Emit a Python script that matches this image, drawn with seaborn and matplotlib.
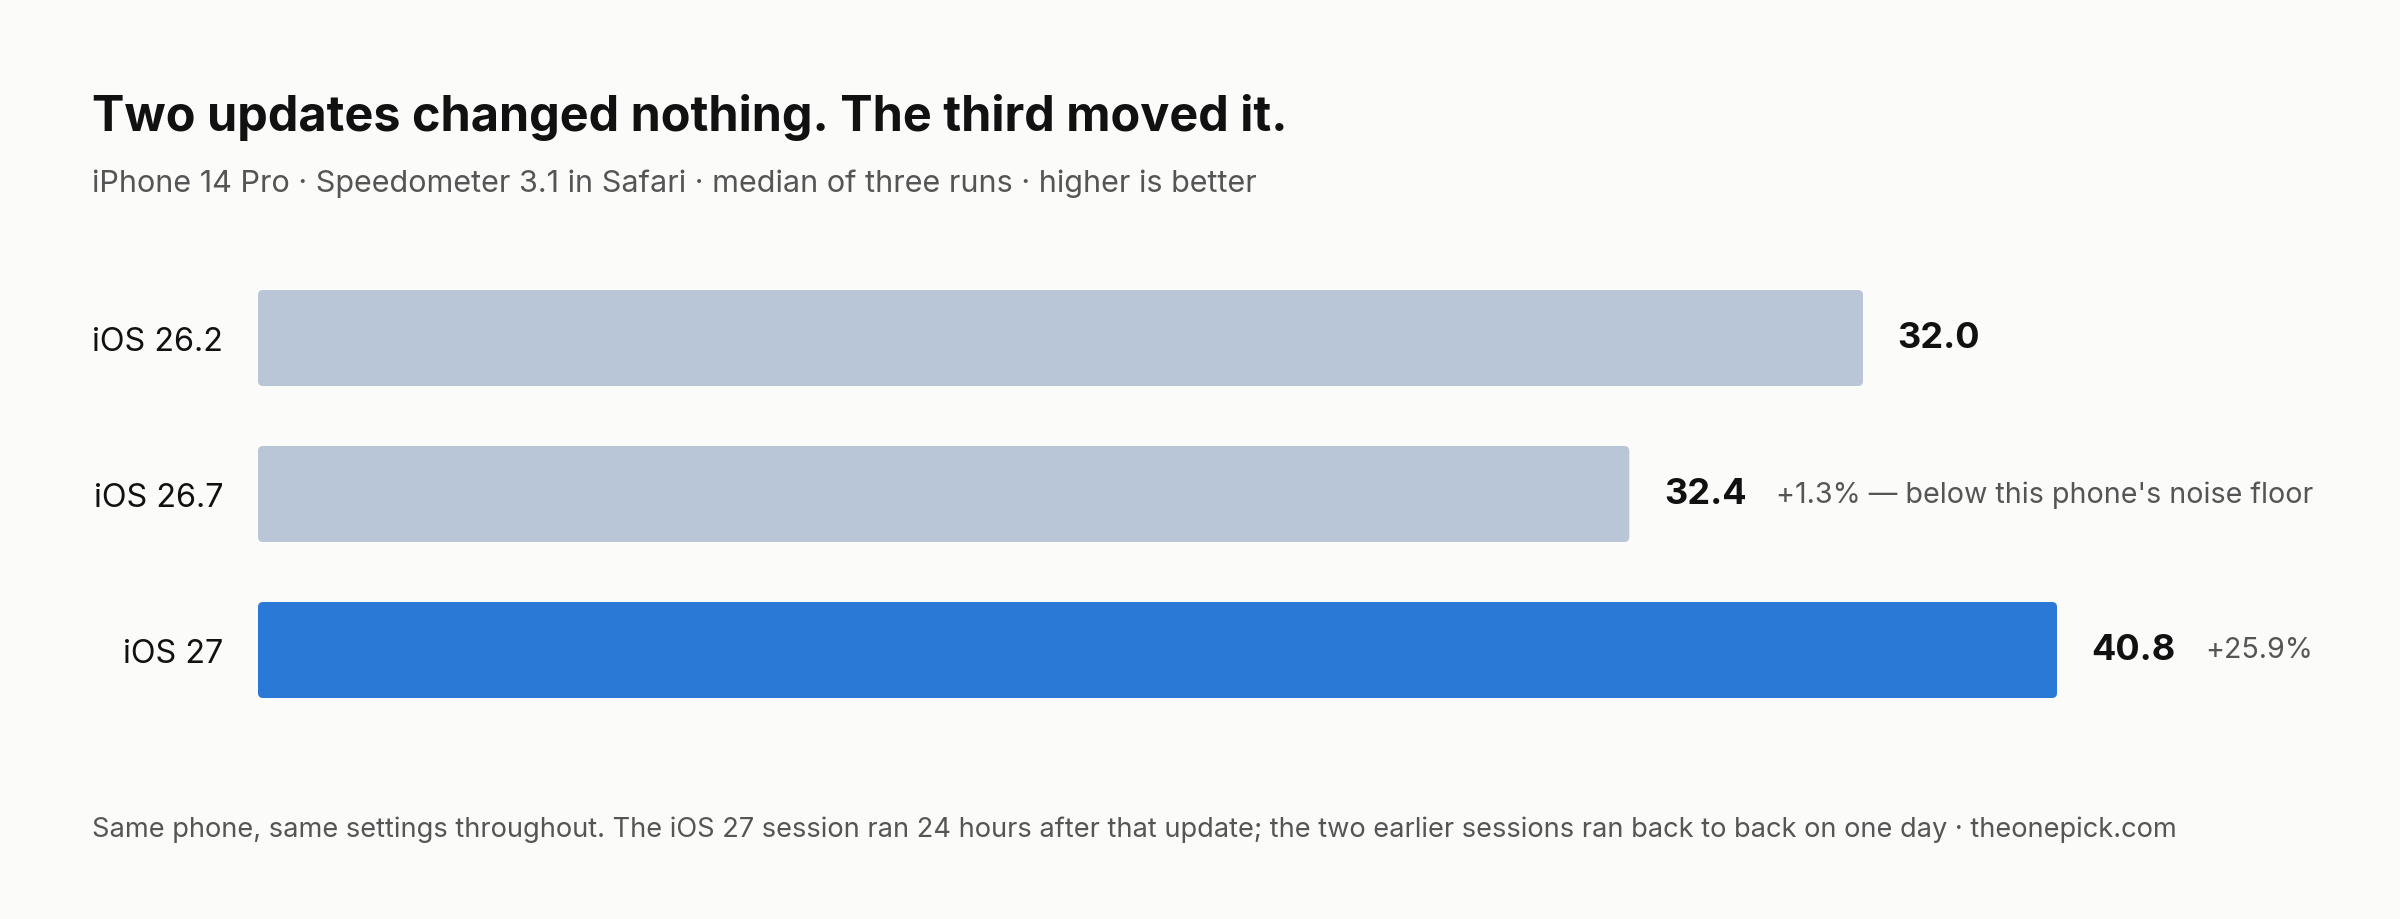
import matplotlib
matplotlib.use("Agg")
import matplotlib.pyplot as plt
from matplotlib.patches import FancyBboxPatch
import seaborn as sns
import pandas as pd

# data
versions = ["iOS 26.2", "iOS 26.7", "iOS 27"]
scores = [32.0, 32.4, 40.8]
# bar lengths as drawn in the reference (score units, iOS 27 bar = 40.8)
bar_drawn = [36.4, 31.1, 40.8]
notes = ["", "+1.3% — below this phone's noise floor", "+25.9%"]
bar_colors = ["#B9C6D7", "#B9C6D7", "#2A79D6"]

BG = "#FBFBFA"
DARK = "#111111"
GREY = "#555555"

sns.set_theme(style="white")
plt.rcParams["font.family"] = ["Inter", "DejaVu Sans"]

DPI = 100
W, H = 2400, 920
fig = plt.figure(figsize=(W / DPI, H / DPI), dpi=DPI, facecolor=BG)

# axes placed in pixel terms of the reference
left, right = 258, 2308
top, bottom = 261, 729
ax = fig.add_axes([left / W, 1 - bottom / H, (right - left) / W, (bottom - top) / H])
ax.set_facecolor(BG)

df = pd.DataFrame({"version": versions, "length": bar_drawn})
sns.barplot(data=df, x="length", y="version", hue="version", palette=bar_colors,
            orient="h", width=96 / 156, legend=False, ax=ax, saturation=1)

xmax = 40.8 * (right - left) / (2057 - left)
ax.set_xlim(0, xmax)
ax.set_ylim(2.5, -0.5)

# swap the plain rectangles for slightly rounded ones
px_x = (right - left) / xmax
px_y = (bottom - top) / 3
for p in list(ax.patches):
    fb = FancyBboxPatch((p.get_x(), p.get_y()), p.get_width(), p.get_height(),
                        boxstyle=f"round,pad=0,rounding_size={5 / px_x}",
                        mutation_aspect=px_x / px_y,
                        facecolor=p.get_facecolor(), edgecolor="none")
    p.remove()
    ax.add_patch(fb)

ax.set_xlabel("")
ax.set_ylabel("")
ax.set_xticks([])
for s in ax.spines.values():
    s.set_visible(False)
ax.tick_params(axis="y", length=0, pad=25, labelsize=23.3, labelcolor=DARK)

for i, (v, d, note) in enumerate(zip(scores, bar_drawn, notes)):
    t = ax.annotate(f"{v:.1f}", xy=(d, i), xytext=(25, 0), textcoords="offset points",
                    va="center", ha="left", fontsize=26, fontweight="bold", color=DARK)
    if note:
        ax.annotate(note, xy=(1, 0.5), xycoords=t, xytext=(21, 0), textcoords="offset points",
                    va="center", ha="left", fontsize=20.6, color=GREY)

fig.text(92 / W, 1 - 131 / H, "Two updates changed nothing. The third moved it.",
         fontsize=35, fontweight="bold", color=DARK, va="baseline", ha="left")
fig.text(92 / W, 1 - 192 / H, "iPhone 14 Pro · Speedometer 3.1 in Safari · median of three runs · higher is better",
         fontsize=22, color=GREY, va="baseline", ha="left")
fig.text(92 / W, 1 - 837 / H,
         "Same phone, same settings throughout. The iOS 27 session ran 24 hours after that update; "
         "the two earlier sessions ran back to back on one day · theonepick.com",
         fontsize=19.6, color=GREY, va="baseline", ha="left")

fig.savefig("out.png", dpi=DPI, facecolor=BG)
